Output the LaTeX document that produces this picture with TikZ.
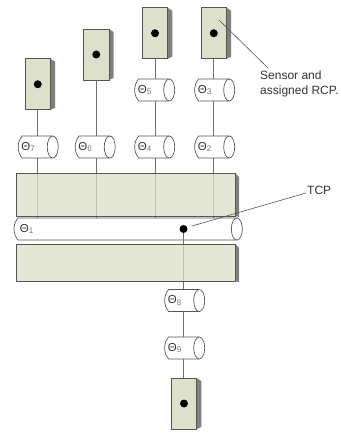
\documentclass[tikz,border=0pt]{standalone}
\usepackage{fontspec}
\usepackage{xcolor}
\setmainfont{Liberation Sans}
\usetikzlibrary{calc,positioning,shapes.geometric,shapes.misc}
\definecolor{sensorfill}{HTML}{DDE0CA}
\definecolor{blockfill}{HTML}{DDE0CA}
\definecolor{sidegray}{HTML}{808080}
\definecolor{edgegray}{HTML}{555555}
\definecolor{linkgray}{HTML}{6E6E6E}
\definecolor{subgray}{HTML}{777777}
\definecolor{textgray}{HTML}{333333}
\tikzset{
  sensorbox/.style={draw=edgegray,fill=sensorfill,line width=0.9pt,minimum width=25.5pt,minimum height=51pt,inner sep=0pt},
  blockbox/.style={draw=edgegray,fill=blockfill,fill opacity=0.78,line width=0.9pt,minimum width=219pt,inner sep=0pt},
  jointbody/.style={rounded rectangle,rounded rectangle right arc=none,rounded rectangle arc length=80,draw=edgegray,fill=white,line width=0.7pt,minimum height=22pt,minimum width=30.5pt,inner sep=0pt},
  jointend/.style={ellipse,draw=edgegray,fill=white,line width=0.7pt,minimum height=22pt,minimum width=11pt,inner sep=0pt},
  jointtext/.style={anchor=west,inner sep=0pt,font=\fontsize{11.5}{12}\selectfont,text=textgray},
  rcpdot/.style={circle,fill=black,minimum size=8pt,inner sep=0pt},
  linkline/.style={draw=linkgray,line width=0.8pt},
  leaderline/.style={draw=edgegray,line width=0.6pt},
  notetext/.style={inner sep=0pt,font=\fontsize{12}{15}\selectfont,text=textgray,align=left}
}
\begin{document}
\begin{tikzpicture}[x=1pt,y=-1pt]
  \useasboundingbox (0,0) rectangle (340,435);
  % joints
  \foreach \name/\x/\y/\idx in {j7/35.25/147/7,j6/92.25/147/6,j5/151.75/90/5,j4/151.75/147/4,j3/211.75/90/3,j2/211.75/147/2,j8/181.75/300.5/8,j9/181.75/348/9} {
    \node[jointbody] (\name) at (\x,\y) {};
    \node[jointend] (e\name) at (\name.east) {};
    \node[jointtext] (l\name) at ($(\name.west)+(3.5,0)$) {Θ{\color{subgray}\textsubscript{\idx}}};
  }
  \node[jointbody,minimum width=222.5pt] (j1) at (125.25,229) {};
  \node[jointend] (ej1) at (j1.east) {};
  \node[jointtext] (lj1) at ($(j1.west)+(6,0)$) {Θ{\color{subgray}\textsubscript{1}}};
  \node[rcpdot] (tcp) at (183.5,229) {};
  % sensors
  \foreach \name/\x/\y in {s7/37.75/84.25,s6/96.25/54.5,s5/155/33.25,s3/213.75/33.25,s9/184/403.5} {
    \fill[sidegray] (\x+12.75,\y-25.5) -- ++(4.5,3) -- (\x+17.25,\y+23.5) -- (\x+12.75,\y+25.5) -- cycle;
    \node[sensorbox] (\name) at (\x,\y) {};
    \node[rcpdot] (d\name) at (\name.center) {};
  }
  % links
  \draw[linkline] (s7.south) -- (s7.south |- j7.north);
  \draw[linkline] (s6.south) -- (s6.south |- j6.north);
  \draw[linkline] (s5.south) -- (s5.south |- j5.north);
  \draw[linkline] (s5.south |- j5.south) -- (s5.south |- j4.north);
  \draw[linkline] (s3.south) -- (s3.south |- j3.north);
  \draw[linkline] (s3.south |- j3.south) -- (s3.south |- j2.north);
  \draw[linkline] (s7.south |- j7.south) -- (s7.south |- j1.north);
  \draw[linkline] (s6.south |- j6.south) -- (s6.south |- j1.north);
  \draw[linkline] (s5.south |- j4.south) -- (s5.south |- j1.north);
  \draw[linkline] (s3.south |- j2.south) -- (s3.south |- j1.north);
  \draw[linkline] (tcp) -- (tcp |- j8.north);
  \draw[linkline] (tcp |- j8.south) -- (tcp |- j9.north);
  \draw[linkline] (tcp |- j9.south) -- (tcp |- s9.north);
  % blocks
  \foreach \name/\y/\h in {b1/194.5/43,b2/262.5/37} {
    \fill[sidegray] (235,\y-\h/2) -- ++(4,4) -- (239,\y+\h/2+1) -- (235,\y+\h/2) -- cycle;
    \node[blockbox,minimum height=\h pt] (\name) at (125.5,\y) {};
  }
  % notes
  \node[notetext,anchor=north west] (sensornote) at (260,70.5) {Sensor and\\assigned RCP.};
  \coordinate (sensorend) at (219,20);
  \draw[leaderline] (sensorend) -- (268,68);
  \node[notetext,anchor=west] (tcpnote) at (307,190) {TCP};
  \coordinate (tcpend) at (192,226);
  \draw[leaderline] (tcpend) -- ($(tcpnote.west)+(-1,3)$);
\end{tikzpicture}
\end{document}
